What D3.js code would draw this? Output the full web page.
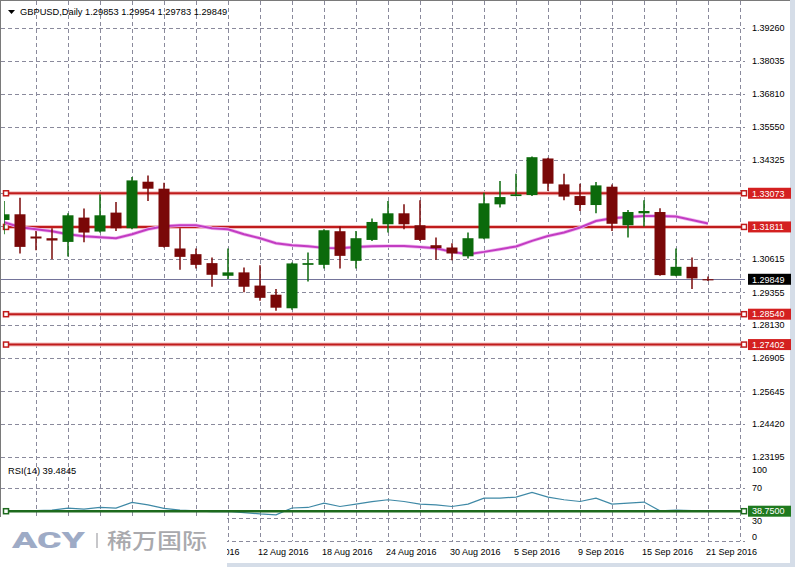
<!DOCTYPE html>
<html><head><meta charset="utf-8">
<script src="https://cdn.jsdelivr.net/npm/d3@7"></script>
<style>html,body{margin:0;padding:0;background:#fff;overflow:hidden}</style>
</head><body><svg id="c" width="795" height="567"></svg>
<script>
// ---------------- data ----------------
const dates = ["21 Jul 2016","22 Jul 2016","25 Jul 2016","26 Jul 2016","27 Jul 2016","28 Jul 2016","29 Jul 2016",
"1 Aug 2016","2 Aug 2016","3 Aug 2016","4 Aug 2016","5 Aug 2016","8 Aug 2016","9 Aug 2016","10 Aug 2016","11 Aug 2016","12 Aug 2016",
"15 Aug 2016","16 Aug 2016","17 Aug 2016","18 Aug 2016","19 Aug 2016","22 Aug 2016","23 Aug 2016","24 Aug 2016","25 Aug 2016","26 Aug 2016",
"29 Aug 2016","30 Aug 2016","31 Aug 2016","1 Sep 2016","2 Sep 2016","5 Sep 2016","6 Sep 2016","7 Sep 2016","8 Sep 2016","9 Sep 2016",
"12 Sep 2016","13 Sep 2016","14 Sep 2016","15 Sep 2016","16 Sep 2016","19 Sep 2016","20 Sep 2016","21 Sep 2016"];
const openV  = [1.32072,1.32285,1.31452,1.31388,1.31250,1.32161,1.31638,1.32348,1.31762,1.33506,1.33244,1.31003,1.30790,1.30454,1.29980,1.30107,1.29613,1.29270,1.28762,1.30390,1.30390,1.31650,1.30540,1.31324,1.31911,1.32322,1.31874,1.31126,1.31040,1.30710,1.31377,1.32658,1.32968,1.33006,1.34377,1.33405,1.32968,1.32632,1.33319,1.31874,1.32322,1.32370,1.29980,1.30316,1.29853];
const highV  = [1.32781,1.32909,1.31661,1.31762,1.32322,1.32498,1.33032,1.32744,1.33678,1.33740,1.33469,1.31762,1.31003,1.30667,1.31003,1.30293,1.30379,1.29483,1.30480,1.30854,1.31724,1.31825,1.31661,1.32124,1.32781,1.32658,1.32808,1.31414,1.31201,1.31601,1.33095,1.33529,1.33805,1.34452,1.34403,1.33805,1.33432,1.33491,1.33405,1.32445,1.32808,1.32509,1.31003,1.30667,1.29954];
const lowV   = [1.31537,1.30816,1.30940,1.30603,1.30704,1.31239,1.31601,1.31661,1.31724,1.32781,1.31040,1.30204,1.30256,1.29569,1.29856,1.29359,1.29046,1.28672,1.28709,1.29770,1.30256,1.30256,1.30256,1.31287,1.31601,1.31724,1.31287,1.30577,1.30566,1.30629,1.31351,1.32535,1.32957,1.32968,1.33155,1.32808,1.32408,1.32322,1.31661,1.31414,1.31825,1.29980,1.29958,1.29481,1.29783];
const closeV = [1.32285,1.31063,1.31377,1.31302,1.32247,1.31601,1.32247,1.31762,1.33555,1.33244,1.31063,1.30689,1.30390,1.30017,1.30107,1.29569,1.29154,1.28784,1.30443,1.30454,1.31687,1.30727,1.31388,1.31997,1.32322,1.31911,1.31324,1.31015,1.30816,1.31388,1.32696,1.32931,1.33032,1.34425,1.33432,1.32946,1.32632,1.33368,1.31929,1.32370,1.32408,1.30006,1.30316,1.29882,1.29849];
const maV    = [1.31986,1.31799,1.31724,1.31650,1.31537,1.31463,1.31425,1.31388,1.31537,1.31724,1.31836,1.31874,1.31874,1.31762,1.31724,1.31537,1.31388,1.31201,1.31126,1.31089,1.31026,1.31014,1.31063,1.31089,1.31100,1.31100,1.31063,1.31014,1.30876,1.30790,1.30876,1.30977,1.31078,1.31287,1.31474,1.31601,1.31788,1.32034,1.32135,1.32184,1.32221,1.32221,1.32199,1.32072,1.31937];
const rsiV   = [39.3,38.8,39.5,40.1,42.8,41.5,43.7,42.8,50.3,47.2,42.5,40.1,39.2,38.0,38.5,37.0,35.2,33.9,43.0,43.7,49.4,45.0,48.1,51.5,53.9,51.6,48.1,47.2,45.0,48.1,56.1,56.1,57.4,63.6,57.4,53.9,51.6,56.1,48.1,49.4,50.8,39.2,40.3,39.6,39.4845];
const priceTicks = ["1.39260","1.38035","1.36810","1.35550","1.34325","1.33085","1.31850","1.30615","1.29355","1.28130","1.26905","1.25645","1.24420","1.23195"];
const levelValues = [1.33073, 1.31811, 1.28540, 1.27402];
const levelLabels = ["1.33073","1.31811","1.28540","1.27402"];
const lastPrice = 1.29849, lastLabel = "1.29849";
const rsiTicks = [100, 70, 30, 0];
const rsiGridLevels = [70, 30, 0];
const rsiLevel = 38.75, rsiLevelLabel = "38.7500";
const titleText = "GBPUSD,Daily  1.29853 1.29954 1.29783 1.29849";
const rsiTitle = "RSI(14) 39.4845";
const labelEvery = 4, gridEvery = 2, extraSlots = 2;

// ---------------- chart ----------------
const svg = d3.select("#c");
const FONT = "'Liberation Sans', Arial, sans-serif";
const plotL = 1, plotT = 1, plotB = 541;

const x = d3.scalePoint().domain(dates).range([4, 708]);
const xi = d3.scaleLinear().domain([0, dates.length - 1]).range([4, 708]);
const y = d3.scaleLinear().domain([1.23195, 1.39260]).range([456.8, 28.2]);
const yr = d3.scaleLinear().domain([0, 100]).range([540.5, 464.9]);

svg.append("rect").attr("width", 795).attr("height", 567).attr("fill", "#fff");

const defs = svg.append("defs");
defs.append("clipPath").attr("id", "pc")
  .append("rect").attr("x", 4).attr("y", 1).attr("width", 740).attr("height", 540);
defs.append("clipPath").attr("id", "dc")
  .append("rect").attr("x", 227).attr("y", 540).attr("width", 560).attr("height", 23);

const gridC = "#8a8a9c";
const grid = svg.append("g").attr("stroke", gridC).attr("stroke-width", 1).attr("stroke-dasharray", "4,3");
grid.selectAll(".hp").data(priceTicks).join("line").attr("class", "hp")
  .attr("x1", plotL).attr("x2", 745)
  .attr("y1", d => Math.round(y(+d)) + 0.5).attr("y2", d => Math.round(y(+d)) + 0.5);
grid.selectAll(".hr").data(rsiGridLevels).join("line").attr("class", "hr")
  .attr("x1", plotL).attr("x2", 745)
  .attr("y1", d => Math.round(yr(d)) + 0.5).attr("y2", d => Math.round(yr(d)) + 0.5);
const vIdx = d3.range(gridEvery, dates.length + extraSlots, gridEvery);
grid.selectAll(".v").data(vIdx).join("line").attr("class", "v")
  .attr("x1", d => Math.round(xi(d)) + 0.5).attr("x2", d => Math.round(xi(d)) + 0.5)
  .attr("y1", plotT).attr("y2", plotB);

// frame
svg.append("line").attr("x1", 0).attr("x2", 790).attr("y1", 0.5).attr("y2", 0.5).attr("stroke", "#7a7a7a");
svg.append("line").attr("x1", 0.5).attr("x2", 0.5).attr("y1", 0).attr("y2", 567).attr("stroke", "#7a7a7a");
svg.append("rect").attr("x", 790).attr("y", 0).attr("width", 5).attr("height", 567).attr("fill", "#d5dde8");
svg.append("rect").attr("x", 0).attr("y", 563).attr("width", 795).attr("height", 4).attr("fill", "#d5dde8");

// level lines (red)
const lv = svg.append("g");
levelValues.forEach(v => {
  const yy = y(v);
  lv.append("line").attr("x1", 4).attr("x2", 744).attr("y1", yy).attr("y2", yy).attr("stroke", "#f2bcbc").attr("stroke-width", 4);
  lv.append("line").attr("x1", 4).attr("x2", 744).attr("y1", yy).attr("y2", yy).attr("stroke", "#c01c1c").attr("stroke-width", 2);
  [6, 744].forEach(px => lv.append("rect").attr("x", px - 2.5).attr("y", yy - 2.5).attr("width", 5).attr("height", 5)
    .attr("fill", "#fff").attr("stroke", "#c01c1c").attr("stroke-width", 1.5));
});

// last price line
svg.append("line").attr("x1", plotL).attr("x2", 745).attr("y1", Math.round(y(lastPrice)) + 0.5).attr("y2", Math.round(y(lastPrice)) + 0.5)
  .attr("stroke", "#74749a").attr("stroke-width", 1);

const clipG = svg.append("g").attr("clip-path", "url(#pc)");
const maLine = d3.line().x((d, i) => x(dates[i])).y(d => y(d));
clipG.append("path").datum(maV).attr("d", maLine)
  .attr("fill", "none").attr("stroke", "#f0b8f0").attr("stroke-width", 3.5);
clipG.append("path").datum(maV).attr("d", maLine)
  .attr("fill", "none").attr("stroke", "#c23cc2").attr("stroke-width", 2);

// candles
const bodyW = 11;
const candles = clipG.selectAll(".cd").data(dates).join("g").attr("class", "cd");
candles.append("line")
  .attr("x1", d => x(d)).attr("x2", d => x(d))
  .attr("y1", (d, i) => y(highV[i])).attr("y2", (d, i) => y(lowV[i]))
  .attr("stroke", (d, i) => closeV[i] >= openV[i] ? "#0b6a0b" : "#7a0808").attr("stroke-width", 1.5);
candles.append("rect")
  .attr("x", d => x(d) - bodyW / 2)
  .attr("y", (d, i) => y(Math.max(openV[i], closeV[i])))
  .attr("width", bodyW)
  .attr("height", (d, i) => Math.max(1.2, Math.abs(y(openV[i]) - y(closeV[i]))))
  .attr("fill", (d, i) => closeV[i] >= openV[i] ? "#0b6a0b" : "#7a0808");

// RSI level line (green)
const gy = yr(rsiLevel);
svg.append("line").attr("x1", 4).attr("x2", 744).attr("y1", gy).attr("y2", gy).attr("stroke", "#1d6a1d").attr("stroke-width", 2.5);
[6, 744].forEach(px => svg.append("rect").attr("x", px - 2.5).attr("y", gy - 2.5).attr("width", 5).attr("height", 5)
  .attr("fill", "#fff").attr("stroke", "#1d6a1d").attr("stroke-width", 1.5));

// RSI line
clipG.append("path").datum(rsiV)
  .attr("d", d3.line().x((d, i) => x(dates[i])).y(d => yr(d)))
  .attr("fill", "none").attr("stroke", "#3f89a6").attr("stroke-width", 1.2);

// axis labels
const txt = svg.append("g").attr("font-family", FONT).attr("font-size", 9).attr("fill", "#000");
txt.selectAll(".pl").data(priceTicks).join("text").attr("class", "pl")
  .attr("x", 752).attr("y", d => y(+d)).attr("dy", "0.36em").text(d => d);
txt.selectAll(".rl").data(rsiTicks).join("text").attr("class", "rl")
  .attr("x", 752).attr("y", d => d === 30 ? yr(d) + 2.5 : Math.min(536.5, Math.max(469.5, yr(d)))).attr("dy", "0.36em").text(d => d);

// label boxes
const boxes = svg.append("g").attr("font-family", FONT).attr("font-size", 9);
function box(val, yy, fill) {
  boxes.append("rect").attr("x", 748).attr("y", yy - 5.5).attr("width", 43).attr("height", 11).attr("fill", fill);
  boxes.append("text").attr("x", 752).attr("y", yy).attr("dy", "0.36em").attr("fill", "#fff").text(val);
}
levelValues.forEach((v, k) => box(levelLabels[k], y(v), "#d42020"));
box(lastLabel, y(lastPrice), "#000");
box(rsiLevelLabel, gy, "#1f7a1f");

// date labels (those fully under the logo panel are not visible)
const dl = dates.map((d, i) => i).filter(i => i % labelEvery === 0 && x(dates[i]) + 48 > 227);
svg.append("g").attr("clip-path", "url(#dc)").attr("font-family", FONT).attr("font-size", 9)
  .selectAll("text").data(dl).join("text")
  .attr("x", i => x(dates[i]) - 2).attr("y", 552).attr("dy", "0.36em").text(i => dates[i]);

// titles
svg.append("path").attr("d", "M8,10 L15,10 L11.5,14 Z").attr("fill", "#000");
svg.append("text").attr("x", 20).attr("y", 12).attr("dy", "0.36em").attr("font-family", FONT).attr("font-size", 9.3).text(titleText);
svg.append("text").attr("x", 8).attr("y", 471).attr("dy", "0.36em").attr("font-family", FONT).attr("font-size", 9.3).text(rsiTitle);

// logo overlay
svg.append("rect").attr("x", 0).attr("y", 517).attr("width", 227).attr("height", 50).attr("fill", "#fff");
svg.append("text").attr("x", 12).attr("y", 548).attr("font-family", "Roboto, 'Liberation Sans', sans-serif")
  .attr("font-weight", 900).attr("font-size", 22).attr("fill", "#9eabc6")
  .attr("textLength", 73).attr("lengthAdjust", "spacingAndGlyphs").text("ACY");
svg.append("line").attr("x1", 97).attr("x2", 97).attr("y1", 533).attr("y2", 548).attr("stroke", "#b4b4b8").attr("stroke-width", 1.5);
svg.append("text").attr("x", 107).attr("y", 548).attr("font-family", "'Noto Sans CJK SC', sans-serif")
  .attr("font-weight", 500).attr("font-size", 21).attr("fill", "#a9a9ad")
  .attr("textLength", 100).attr("lengthAdjust", "spacingAndGlyphs").text("稀万国际");
</script></body></html>
